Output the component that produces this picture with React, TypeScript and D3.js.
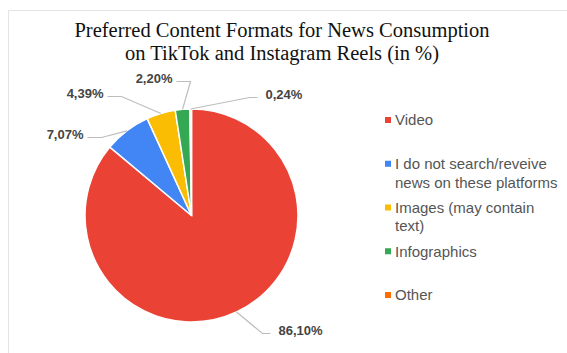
import React from "react";
import * as d3 from "d3";

const categories = [
  "Video",
  "I do not search/reveive news on these platforms",
  "Images (may contain text)",
  "Infographics",
  "Other",
];
const values = [86.1, 7.07, 4.39, 2.2, 0.24];
const valueLabels = ["86,10%", "7,07%", "4,39%", "2,20%", "0,24%"];
const legendLines = [
  ["Video"],
  ["I do not search/reveive", "news on these platforms"],
  ["Images (may contain", "text)"],
  ["Infographics"],
  ["Other"],
];
const colors = ["#ea4335", "#4285f4", "#fbbc04", "#34a853", "#ff6d01"];
const titleLines = [
  "Preferred Content Formats for News Consumption",
  "on TikTok and Instagram Reels (in %)",
];

// layout: label anchor offsets from pie center (line end)
const labelOffsets: [number, number][] = [
  [79, 118],
  [-104, -78],
  [-84, -119],
  [-15, -134],
  [66, -118],
];

const W = 567;
const H = 353;
const cx = 191.5;
const cy = 215.5;
const R = 106.5;

export default function App() {
  const pie = d3
    .pie<number>()
    .sort(null)
    .value((d) => d);
  const arcs = pie(values);
  const arc = d3.arc<d3.PieArcDatum<number>>().innerRadius(0).outerRadius(R);

  const legendY = d3
    .scaleLinear()
    .domain([0, categories.length - 1])
    .range([120, 295]);

  return (
    <svg
      width={W}
      height={H}
      style={{ position: "fixed", left: 0, top: 0, background: "#fff" }}
    >
      <rect x={0} y={0} width={W} height={H} fill="#fff" />
      <path d={`M8.5,${H} V10.5 H${W}`} fill="none" stroke="#e3e3e3" strokeWidth={1} />
      <g
        fontFamily="'Liberation Serif', 'Times New Roman', serif"
        fontSize={20.5}
        fill="#111"
        textAnchor="middle"
      >
        {titleLines.map((t, i) => (
          <text key={i} x={282} y={37 + i * 23}>
            {t}
          </text>
        ))}
      </g>
      <g transform={`translate(${cx},${cy})`}>
        {arcs.map((a, i) => (
          <path key={i} d={arc(a) || ""} fill={colors[i]} stroke="#fff" strokeWidth={1.5} />
        ))}
        {arcs.map((a, i) => {
          const mid = (a.startAngle + a.endAngle) / 2;
          const sx = Math.sin(mid) * R;
          const sy = -Math.cos(mid) * R;
          const [ex, ey] = labelOffsets[i];
          const right = ex > 0;
          const elbowX = ex + (right ? -8 : 14);
          const tx = ex + (right ? 8 : -4);
          return (
            <g key={i}>
              <polyline
                points={`${sx},${sy} ${elbowX},${ey} ${ex},${ey}`}
                fill="none"
                stroke="#bdbdbd"
                strokeWidth={1.2}
              />
              <text
                x={tx}
                y={ey - 3}
                dy="0.35em"
                textAnchor={right ? "start" : "end"}
                fontFamily="'Liberation Sans', Arial, sans-serif"
                fontSize={13}
                fontWeight="bold"
                fill="#444"
              >
                {valueLabels[i]}
              </text>
            </g>
          );
        })}
      </g>
      <g fontFamily="'Liberation Sans', Arial, sans-serif" fontSize={15} fill="#555">
        {categories.map((c, i) => {
          const y = legendY(i);
          return (
            <g key={c}>
              <rect x={385} y={y - 3} width={6} height={6} fill={colors[i]} />
              {legendLines[i].map((l, j) => (
                <text key={j} x={395} y={y + j * 18.5} dy="0.35em">
                  {l}
                </text>
              ))}
            </g>
          );
        })}
      </g>
    </svg>
  );
}
